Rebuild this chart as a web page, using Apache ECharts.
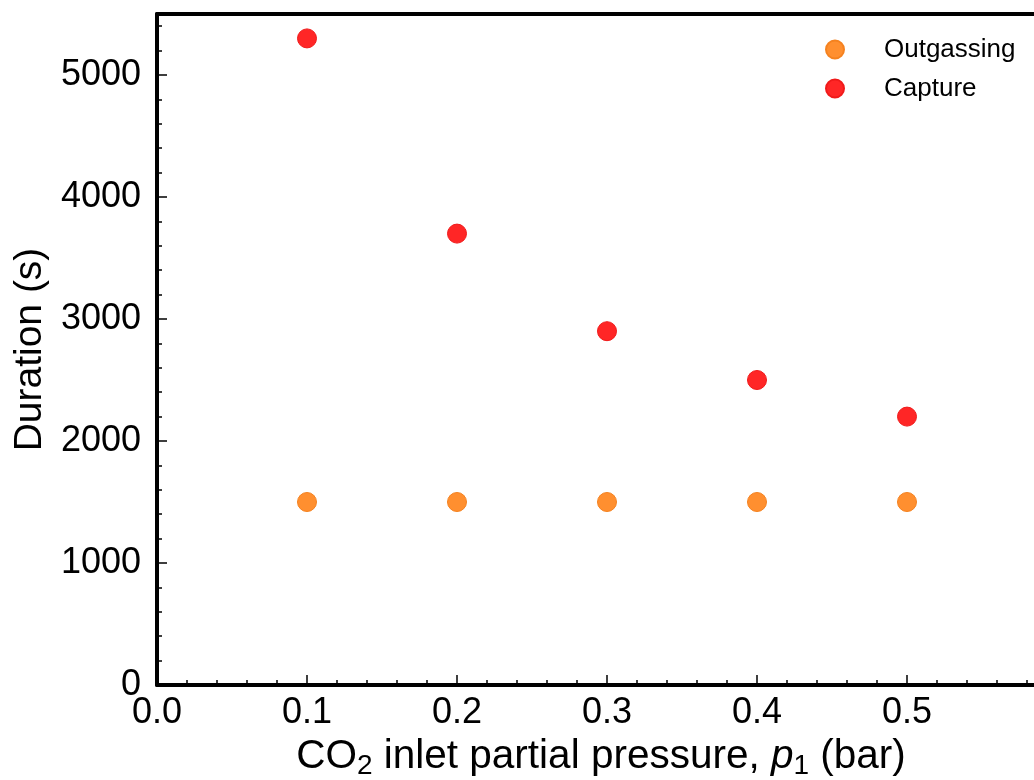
<!DOCTYPE html>
<html>
<head>
<meta charset="utf-8">
<script src="https://cdn.jsdelivr.net/npm/echarts@6/dist/echarts.min.js"></script>
<style>
html,body{margin:0;padding:0;background:#fff;}
#chart{width:1034px;height:780px;}
</style>
</head>
<body>
<div id="chart"></div>
<script>
const pressures = [0.1, 0.2, 0.3, 0.4, 0.5];
const outgassing = [1500, 1500, 1500, 1500, 1500];
const capture = [5300, 3700, 2900, 2500, 2200];
const seriesNames = ['Outgassing', 'Capture'];

const FONT = '"Liberation Sans", Arial, sans-serif';
const chart = echarts.init(document.getElementById('chart'));

const toPairs = (xs, ys) => xs.map((x, i) => [x, ys[i]]);

chart.setOption({
  animation: false,
  backgroundColor: '#fff',
  grid: { left: 157, top: 14, width: 900, height: 671, outerBoundsMode: 'none', containLabel: false },
  legend: {
    orient: 'vertical',
    left: 825, top: 36, padding: 0,
    itemWidth: 18, itemHeight: 18, itemGap: 12,
    icon: 'circle',
    textStyle: { fontFamily: FONT, fontSize: 26, lineHeight: 27, color: '#000', padding: [0, 0, 0, 35] },
    data: seriesNames
  },
  xAxis: [{
    type: 'value', min: 0, max: 0.6, interval: 0.1, position: 'bottom',
    axisLine: { show: true, onZero: false, lineStyle: { color: '#000', width: 4 } },
    axisTick: { show: true, inside: true, length: 10, lineStyle: { color: '#000', width: 1.5 } },
    minorTick: { show: true, splitNumber: 5, length: 5, lineStyle: { color: '#000', width: 1.5 } },
    splitLine: { show: false },
    axisLabel: { fontFamily: FONT, fontSize: 36, color: '#000', margin: 10,
      formatter: v => (v > 0.55 ? '' : v.toFixed(1)) },
    name: '{a|CO}{s|2}{a| inlet partial pressure, }{i|p}{s|1}{a| (bar)}',
    nameLocation: 'middle', nameGap: 43,
    nameTextStyle: {
      padding: [0, 12, 0, 0],
      rich: {
        a: { fontFamily: FONT, fontSize: 40.5, color: '#000' },
        i: { fontFamily: FONT, fontSize: 40.5, color: '#000', fontStyle: 'italic' },
        s: { fontFamily: FONT, fontSize: 28, color: '#000', verticalAlign: 'bottom', padding: [20, 0, 0, 0] }
      }
    }
  }, {
    type: 'value', min: 0, max: 0.6, position: 'top',
    axisLine: { show: true, onZero: false, lineStyle: { color: '#000', width: 4 } },
    axisTick: { show: false }, axisLabel: { show: false }, splitLine: { show: false }
  }],
  yAxis: [{
    type: 'value', min: 0, max: 5500, interval: 200, position: 'left',
    axisLine: { show: true, onZero: false, lineStyle: { color: '#000', width: 4 } },
    axisTick: { show: true, inside: true, length: 5, lineStyle: { color: '#000', width: 1.5 } },
    splitLine: { show: false },
    axisLabel: {
      fontFamily: FONT, fontSize: 36, color: '#000', margin: 16,
      formatter: v => (v % 1000 === 0 ? String(v) : '')
    },
    name: 'Duration (s)', nameLocation: 'middle', nameGap: 104,
    nameTextStyle: { fontFamily: FONT, fontSize: 39, color: '#000' }
  }, {
    type: 'value', min: 0, max: 5500, interval: 1000, position: 'left',
    axisLine: { show: false, onZero: false },
    axisTick: { show: true, inside: true, length: 10, lineStyle: { color: '#000', width: 1.5 } },
    axisLabel: { show: false }, splitLine: { show: false }
  }],
  series: [{
    name: seriesNames[0], type: 'scatter', symbol: 'circle', symbolSize: 19,
    itemStyle: { color: '#ff8f2f', borderColor: '#f5821f', borderWidth: 1, opacity: 1 },
    data: toPairs(pressures, outgassing), z: 3
  }, {
    name: seriesNames[1], type: 'scatter', symbol: 'circle', symbolSize: 19,
    itemStyle: { color: '#ff2626', borderColor: '#f01a1a', borderWidth: 1, opacity: 1 },
    data: toPairs(pressures, capture), z: 3
  }]
});
</script>
</body>
</html>
